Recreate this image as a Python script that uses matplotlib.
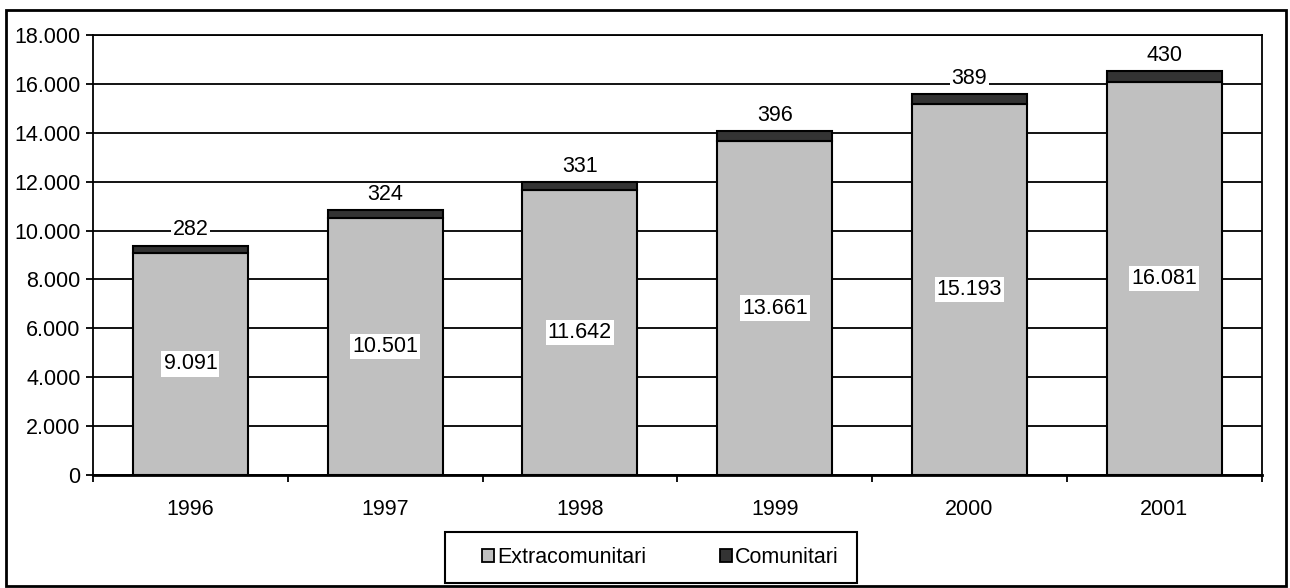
import matplotlib
matplotlib.use("Agg")
import matplotlib.pyplot as plt
from matplotlib.patches import Rectangle, Patch
from matplotlib.ticker import FuncFormatter, FixedLocator

YEARS = ["1996", "1997", "1998", "1999", "2000", "2001"]
EXTRA = [9091, 10501, 11642, 13661, 15193, 16081]
COMUN = [282, 324, 331, 396, 389, 430]
SERIES = ["Extracomunitari", "Comunitari"]

LIGHT = "#C0C0C0"
DARK = "#333333"

plt.rcParams['font.family'] = ['Liberation Sans', 'DejaVu Sans']
FS = 15.5

def dots(v, pos = None):
  return "{:,d}".format(int(round(v))).replace(",", ".")

fig = plt.figure(figsize = (12.9, 5.88), dpi = 100)
ax = fig.add_axes([0.0721, 0.192, 0.9059, 0.7485])

x = list(range(len(YEARS)))
w = 0.59
ax.bar(x, EXTRA, width = w, color = LIGHT, edgecolor = "black", linewidth = 1.5, zorder = 3)
ax.bar(x, COMUN, width = w, bottom = EXTRA, color = DARK, edgecolor = "black", linewidth = 1.5, zorder = 3)

for i in x:
  ax.text(i, EXTRA[i] / 2, dots(EXTRA[i]), ha = 'center', va = 'center', fontsize = FS, zorder = 5,
          bbox = dict(facecolor = 'white', edgecolor = 'none', pad = 1.5))
  ax.annotate(dots(COMUN[i]), (i, EXTRA[i] + COMUN[i]), xytext = (0, 11.5), textcoords = 'offset points',
              ha = 'center', va = 'center', fontsize = FS, zorder = 5,
              bbox = dict(facecolor = 'white', edgecolor = 'none', pad = 1.0))

ax.set_xlim(-0.5, len(YEARS) - 0.5)
ax.set_ylim(0, 18000)
ax.set_yticks(range(0, 18001, 2000))
ax.yaxis.set_major_formatter(FuncFormatter(dots))
ax.set_xticks(x)
ax.set_xticklabels(YEARS)
ax.xaxis.set_minor_locator(FixedLocator([i - 0.5 for i in range(len(YEARS) + 1)]))
ax.tick_params(axis = 'x', which = 'major', length = 0, labelsize = FS, pad = 17)
ax.tick_params(axis = 'x', which = 'minor', length = 5, width = 1.3, direction = 'out')
ax.tick_params(axis = 'y', length = 5, width = 1.3, direction = 'out', labelsize = FS, pad = 4)

ax.grid(axis = 'y', color = 'black', linewidth = 1.3, zorder = 0)
ax.set_axisbelow(True)
for s in ax.spines.values():
  s.set_linewidth(1.3)
  s.set_zorder(4)
ax.spines['bottom'].set_linewidth(2)

handles = [Patch(facecolor = LIGHT, edgecolor = 'black', linewidth = 1.3),
           Patch(facecolor = DARK, edgecolor = 'black', linewidth = 1.3)]
fig.legend(handles, SERIES, loc = 'center', bbox_to_anchor = (0.512, 0.052), ncol = 2, frameon = False,
           fontsize = FS, handlelength = 0.55, handleheight = 0.55, handletextpad = 0.15, columnspacing = 3.4)
fig.add_artist(Rectangle((0.345, 0.0085), 0.319, 0.0865, transform = fig.transFigure,
                         fill = False, edgecolor = 'black', linewidth = 1.5))
fig.add_artist(Rectangle((0.0045, 0.004), 0.9925, 0.9785, transform = fig.transFigure,
                         fill = False, edgecolor = 'black', linewidth = 2))

fig.savefig("out.png", dpi = 100)
